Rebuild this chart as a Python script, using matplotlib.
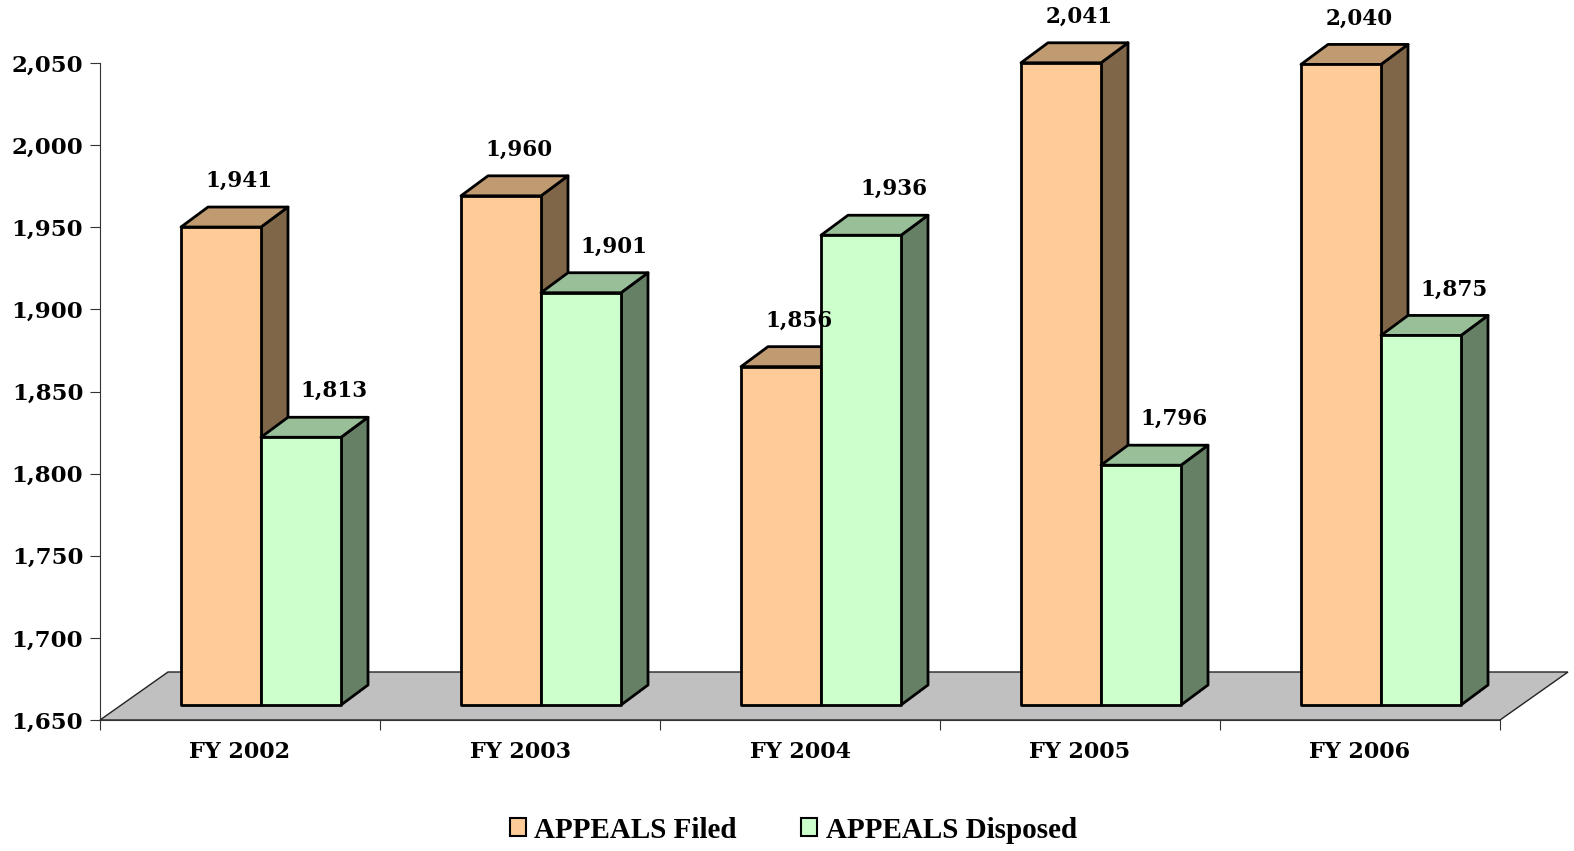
import matplotlib
matplotlib.use("Agg")
import matplotlib.pyplot as plt
import matplotlib.transforms as mtransforms
from matplotlib.patches import Polygon, Patch

years = ["FY 2002", "FY 2003", "FY 2004", "FY 2005", "FY 2006"]
filed = [1941, 1960, 1856, 2041, 2040]
disposed = [1813, 1901, 1936, 1796, 1875]
yticks = [1650, 1700, 1750, 1800, 1850, 1900, 1950, 2000, 2050]
series_names = ["APPEALS Filed", "APPEALS Disposed"]

# colours: front, top, side
filed_cols = ("#FFCC99", "#C09A70", "#806648")
disp_cols = ("#CCFFCC", "#99BF99", "#668066")

serif = "DejaVu Serif"
fig = plt.figure(figsize=(15.74, 8.51), dpi=100)
ax = fig.add_axes([100 / 1574, 131 / 851, 1400 / 1574, 657 / 851])
ax.set_xlim(0, len(years))
ax.set_ylim(1650, 2050)
for s in ["top", "right"]:
    ax.spines[s].set_visible(False)
ax.spines["left"].set_color("#333333")
ax.spines["bottom"].set_color("#333333")
ax.spines["left"].set_bounds(1650, 2050)

ax.set_yticks(yticks)
ax.set_yticklabels([f"{v:,}" for v in yticks], fontfamily=serif, fontweight="bold", fontsize=16.5)
ax.tick_params(axis="y", length=7, color="#333333", pad=5)
ax.set_xticks(range(len(years) + 1))
ax.set_xticklabels([])
ax.tick_params(axis="x", which="major", length=7, color="#333333")
ax.set_xticks([i + 0.5 for i in range(len(years))], minor=True)
ax.set_xticklabels(years, minor=True, fontfamily=serif, fontweight="bold", fontsize=16)
ax.tick_params(axis="x", which="minor", length=0, pad=15)

ident = mtransforms.IdentityTransform()
tr = ax.transData

# 3d offsets in pixels
fx, fy = 21, 15      # front face shift
dx, dy = 27, 20      # bar depth
flx, fly = 68, 48    # floor depth

# floor
p0 = tr.transform((0, 1650))
p1 = tr.transform((len(years), 1650))
floor = Polygon([p0, p1, (p1[0] + flx, p1[1] + fly), (p0[0] + flx, p0[1] + fly)],
                closed=True, facecolor="#C0C0C0", edgecolor="#222222", lw=1,
                transform=ident, clip_on=False, zorder=1)
ax.add_patch(floor)

bw = 80 / 280


def bar3d(x0, val, cols):
    a = tr.transform((x0, 1650))
    b = tr.transform((x0 + bw, val))
    xl, xr = a[0] + fx, b[0] + fx
    yb, yt = a[1] + fy, b[1] + fy
    kw = dict(closed=True, edgecolor="black", lw=2, joinstyle="round",
              transform=ident, clip_on=False, zorder=3)
    side = [(xr, yb), (xr + dx, yb + dy), (xr + dx, yt + dy), (xr, yt)]
    top = [(xl, yt), (xr, yt), (xr + dx, yt + dy), (xl + dx, yt + dy)]
    front = [(xl, yb), (xr, yb), (xr, yt), (xl, yt)]
    ax.add_patch(Polygon(side, facecolor=cols[2], **kw))
    ax.add_patch(Polygon(top, facecolor=cols[1], **kw))
    ax.add_patch(Polygon(front, facecolor=cols[0], **kw))


for i in range(len(years)):
    c = i + 0.5
    bar3d(c - bw, filed[i], filed_cols)
    bar3d(c, disposed[i], disp_cols)
    ax.annotate(f"{filed[i]:,}", xy=(c - bw / 2, filed[i]), xytext=(39, 61),
                textcoords="offset pixels", ha="center", va="center",
                fontfamily=serif, fontweight="bold", fontsize=15.5, annotation_clip=False)
    ax.annotate(f"{disposed[i]:,}", xy=(c + bw / 2, disposed[i]), xytext=(54, 61),
                textcoords="offset pixels", ha="center", va="center",
                fontfamily=serif, fontweight="bold", fontsize=15.5, annotation_clip=False)

handles = [Patch(facecolor=filed_cols[0], edgecolor="black", lw=1.5),
           Patch(facecolor=disp_cols[0], edgecolor="black", lw=1.5)]
fig.legend(handles, series_names, loc="center", bbox_to_anchor=(0.504, 1 - 830 / 851),
           ncol=2, frameon=False, handlelength=0.55, handleheight=0.55, handletextpad=0.3,
           columnspacing=2.2, prop={"family": "Liberation Serif", "weight": "bold", "size": 21})

fig.savefig("out.png", dpi=100)
